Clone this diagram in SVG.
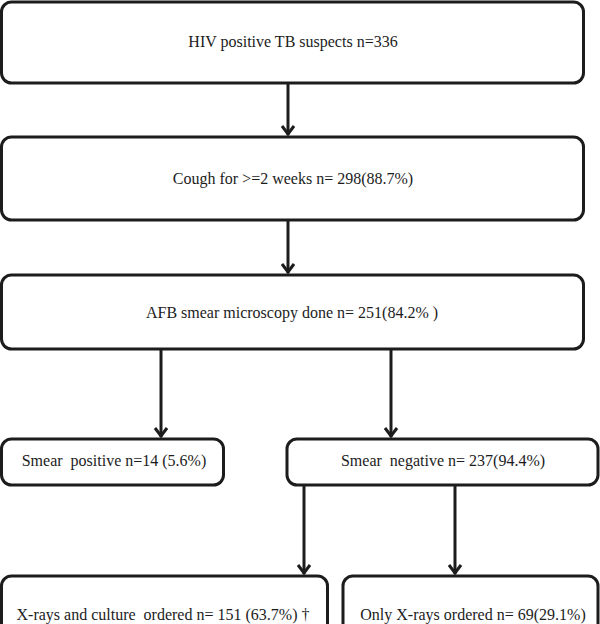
<svg xmlns="http://www.w3.org/2000/svg" width="600" height="624" viewBox="0 0 600 624">
<defs>
<style>
.box{fill:#fff;stroke:#1c1c1c;stroke-width:3}
.t{font-family:"Liberation Serif","Times New Roman",serif;font-size:16px;fill:#1c1c1c;text-anchor:middle}
.c{stroke:#1c1c1c;stroke-width:3;fill:none}
</style>
<marker id="ah" viewBox="0 0 12 14" refX="11" refY="7" markerWidth="12" markerHeight="14" markerUnits="userSpaceOnUse" orient="auto">
<path d="M2,1 L10,7 L2,13" fill="none" stroke="#1c1c1c" stroke-width="3"/>
</marker>
</defs>
<rect width="600" height="624" fill="#fff"/>
<g id="connectors">
<line class="c" x1="288" y1="84" x2="288" y2="135" marker-end="url(#ah)"/>
<line class="c" x1="288" y1="220" x2="288" y2="273" marker-end="url(#ah)"/>
<line class="c" x1="161" y1="349" x2="161" y2="437" marker-end="url(#ah)"/>
<line class="c" x1="391" y1="349" x2="391" y2="437" marker-end="url(#ah)"/>
<line class="c" x1="304" y1="485" x2="304" y2="574" marker-end="url(#ah)"/>
<line class="c" x1="455" y1="485" x2="455" y2="574" marker-end="url(#ah)"/>
</g>
<g id="n1"><rect class="box" x="1.5" y="2" width="582" height="81" rx="10"/><text class="t" x="293" y="47">HIV positive TB suspects n=336</text></g>
<g id="n2"><rect class="box" x="1.5" y="137" width="582" height="83" rx="10"/><text class="t" x="293" y="184">Cough for &gt;=2 weeks n= 298(88.7%)</text></g>
<g id="n3"><rect class="box" x="1.5" y="275" width="582" height="74" rx="10"/><text class="t" x="292" y="318">AFB smear microscopy done n= 251(84.2% )</text></g>
<g id="n4"><rect class="box" x="1.5" y="439" width="222" height="46" rx="10"/><text class="t" x="114" y="466" xml:space="preserve">Smear  positive n=14 (5.6%)</text></g>
<g id="n5"><rect class="box" x="287" y="439" width="311" height="46" rx="10"/><text class="t" x="443" y="466" xml:space="preserve">Smear  negative n= 237(94.4%)</text></g>
<g id="n6"><rect class="box" x="1.5" y="576" width="326" height="60" rx="10"/><text class="t" x="163" y="620" xml:space="preserve">X-rays and culture  ordered n= 151 (63.7%) †</text></g>
<g id="n7"><rect class="box" x="343" y="576" width="255" height="60" rx="10"/><text class="t" x="473" y="620">Only X-rays ordered n= 69(29.1%)</text></g>
</svg>
